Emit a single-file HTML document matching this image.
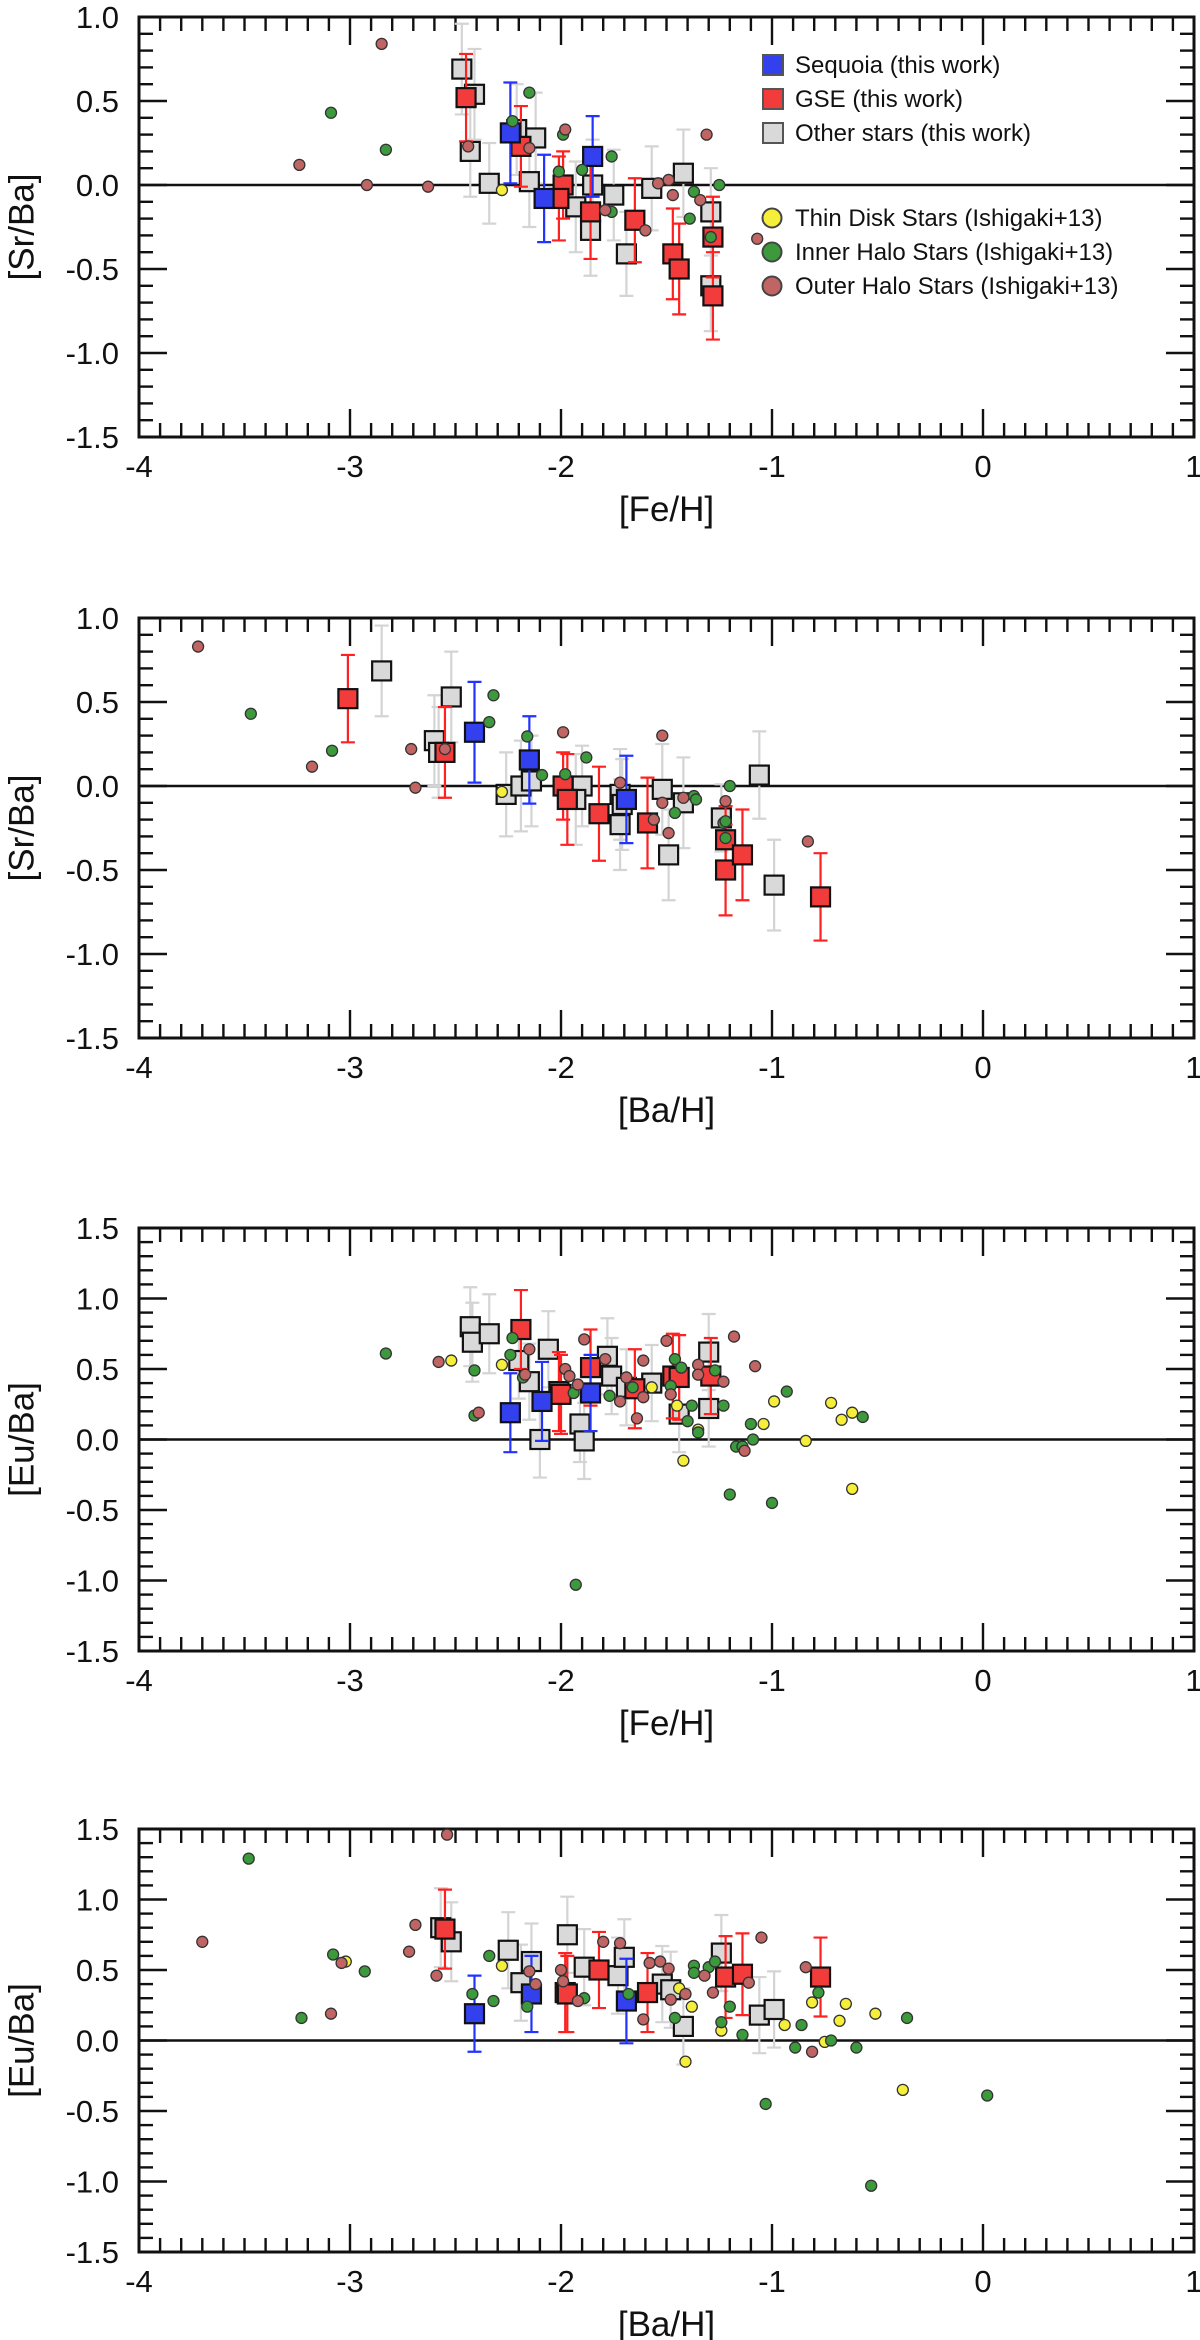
<!DOCTYPE html>
<html><head><meta charset="utf-8"><title>Abundance ratio panels</title>
<style>
html,body{margin:0;padding:0;background:#fff;}
svg{display:block;font-family:"Liberation Sans",Arial,sans-serif;}
</style></head>
<body>
<svg id="fig" width="1200" height="2340" viewBox="0 0 1200 2340" xmlns="http://www.w3.org/2000/svg"></svg>
<script>
// ---------- Panel 1: [Sr/Ba] vs [Fe/H] ----------
const p1SeqX=[-2.24,-2.08,-1.85];
const p1SeqY=[0.31,-0.08,0.17];
const p1SeqE=[0.30,0.26,0.24];
const p1GseX=[-2.45,-2.19,-1.99,-2.01,-1.86,-1.65,-1.47,-1.44,-1.28,-1.28];
const p1GseY=[0.52,0.23,0.0,-0.08,-0.16,-0.21,-0.41,-0.50,-0.31,-0.66];
const p1GseE=[0.26,0.24,0.20,0.25,0.28,0.25,0.27,0.27,0.24,0.26];
const p1OthX=[-2.47,-2.41,-2.43,-2.34,-2.21,-2.12,-2.15,-1.93,-1.85,-1.86,-1.75,-1.69,-1.57,-1.42,-1.29,-1.29];
const p1OthY=[0.69,0.54,0.20,0.01,0.33,0.28,0.02,-0.13,0.0,-0.27,-0.06,-0.41,-0.02,0.07,-0.16,-0.60];
const p1OthE=[0.27,0.27,0.27,0.24,0.27,0.27,0.27,0.27,0.27,0.27,0.27,0.25,0.25,0.26,0.26,0.27];
const p1ThinX=[-2.28];
const p1ThinY=[-0.03];
const p1InnX=[-3.09,-2.83,-2.23,-2.15,-1.99,-2.01,-1.90,-1.76,-1.76,-1.37,-1.39,-1.25,-1.29];
const p1InnY=[0.43,0.21,0.38,0.55,0.30,0.08,0.09,0.17,-0.16,-0.04,-0.20,0.0,-0.31];
const p1OutX=[-2.85,-3.24,-2.92,-2.63,-2.44,-2.15,-1.98,-1.79,-1.60,-1.54,-1.49,-1.47,-1.34,-1.31,-1.07];
const p1OutY=[0.84,0.12,0.0,-0.01,0.23,0.22,0.33,-0.15,-0.27,0.01,0.03,-0.06,-0.09,0.30,-0.32];

// ---------- Panel 2: [Sr/Ba] vs [Ba/H] ----------
const p2SeqX=[-2.41,-2.15,-1.69];
const p2SeqY=[0.32,0.155,-0.08];
const p2SeqE=[0.30,0.26,0.26];
const p2GseX=[-3.01,-2.55,-1.99,-1.97,-1.82,-1.59,-1.22,-1.22,-1.14,-0.77];
const p2GseY=[0.52,0.20,0.0,-0.08,-0.165,-0.22,-0.32,-0.50,-0.41,-0.66];
const p2GseE=[0.26,0.27,0.20,0.27,0.28,0.27,0.20,0.27,0.27,0.26];
const p2OthX=[-2.85,-2.52,-2.60,-2.58,-2.26,-2.19,-2.14,-1.90,-1.93,-1.72,-1.71,-1.72,-1.52,-1.49,-1.42,-1.24,-1.06,-0.99];
const p2OthY=[0.685,0.53,0.27,0.20,-0.05,0.0,0.03,0.0,-0.08,-0.05,-0.11,-0.23,-0.02,-0.41,-0.10,-0.19,0.065,-0.59];
const p2OthE=[0.27,0.27,0.27,0.27,0.25,0.27,0.27,0.24,0.27,0.27,0.27,0.27,0.27,0.27,0.27,0.20,0.26,0.27];
const p2ThinX=[-2.28];
const p2ThinY=[-0.035];
const p2InnX=[-3.47,-3.085,-2.32,-2.34,-2.16,-2.09,-1.98,-1.88,-1.46,-1.37,-1.36,-1.20,-1.23,-1.22,-1.22];
const p2InnY=[0.43,0.21,0.54,0.38,0.295,0.065,0.07,0.17,-0.16,-0.06,-0.08,0.0,-0.22,-0.21,-0.31];
const p2OutX=[-3.72,-3.18,-2.71,-2.69,-2.55,-1.99,-1.72,-1.52,-1.56,-1.49,-1.52,-1.42,-1.22,-0.83];
const p2OutY=[0.83,0.115,0.22,-0.01,0.22,0.32,0.02,-0.10,-0.20,-0.28,0.30,-0.07,-0.09,-0.33];

// ---------- Panel 3: [Eu/Ba] vs [Fe/H] ----------
const p3SeqX=[-2.24,-2.09,-1.86];
const p3SeqY=[0.19,0.27,0.33];
const p3SeqE=[0.28,0.28,0.27];
const p3GseX=[-2.19,-2.01,-2.0,-1.86,-1.65,-1.47,-1.44,-1.29];
const p3GseY=[0.78,0.34,0.32,0.51,0.36,0.45,0.44,0.45];
const p3GseE=[0.28,0.28,0.28,0.27,0.28,0.30,0.30,0.27];
const p3OthX=[-2.43,-2.42,-2.34,-2.20,-2.15,-2.06,-2.10,-1.91,-1.89,-1.78,-1.76,-1.69,-1.57,-1.44,-1.30,-1.30];
const p3OthY=[0.80,0.69,0.75,0.56,0.41,0.64,0.0,0.11,-0.01,0.59,0.45,0.37,0.40,0.18,0.62,0.22];
const p3OthE=[0.28,0.28,0.28,0.27,0.27,0.27,0.27,0.27,0.27,0.27,0.27,0.27,0.27,0.27,0.27,0.27];
const p3ThinX=[-2.52,-2.28,-1.57,-1.45,-1.35,-1.42,-1.04,-0.99,-0.84,-0.72,-0.67,-0.62,-0.62];
const p3ThinY=[0.56,0.53,0.37,0.24,0.07,-0.15,0.11,0.27,-0.01,0.26,0.14,0.19,-0.35];
const p3InnX=[-2.83,-2.41,-2.41,-2.23,-2.24,-2.18,-1.94,-1.77,-1.66,-1.48,-1.46,-1.43,-1.38,-1.40,-1.35,-1.27,-1.23,-1.17,-1.14,-1.09,-1.10,-0.93,-0.57,-1.20,-1.0,-1.93];
const p3InnY=[0.61,0.49,0.17,0.72,0.60,0.44,0.33,0.31,0.37,0.38,0.57,0.51,0.24,0.13,0.05,0.49,0.24,-0.05,-0.05,0.0,0.11,0.34,0.16,-0.39,-0.45,-1.03];
const p3OutX=[-2.58,-2.39,-2.15,-2.17,-1.98,-1.96,-1.92,-1.89,-1.79,-1.72,-1.69,-1.61,-1.61,-1.64,-1.50,-1.48,-1.35,-1.35,-1.23,-1.18,-1.08,-1.13];
const p3OutY=[0.55,0.19,0.64,0.46,0.50,0.45,0.39,0.71,0.57,0.27,0.44,0.30,0.56,0.15,0.70,0.32,0.53,0.46,0.41,0.73,0.52,-0.08];

// ---------- Panel 4: [Eu/Ba] vs [Ba/H] ----------
const p4SeqX=[-2.41,-2.14,-1.69];
const p4SeqY=[0.19,0.33,0.28];
const p4SeqE=[0.27,0.27,0.30];
const p4GseX=[-2.55,-1.98,-1.97,-1.82,-1.59,-1.22,-1.14,-0.77];
const p4GseY=[0.79,0.34,0.33,0.50,0.34,0.45,0.47,0.45];
const p4GseE=[0.28,0.28,0.27,0.27,0.28,0.29,0.29,0.28];
const p4OthX=[-2.57,-2.52,-2.25,-2.19,-2.14,-1.97,-1.89,-1.73,-1.70,-1.52,-1.48,-1.42,-1.24,-1.06,-0.99];
const p4OthY=[0.80,0.70,0.64,0.41,0.56,0.75,0.52,0.46,0.59,0.40,0.36,0.10,0.62,0.18,0.22];
const p4OthE=[0.28,0.28,0.27,0.27,0.27,0.27,0.27,0.27,0.27,0.27,0.27,0.27,0.27,0.27,0.27];
const p4ThinX=[-3.02,-2.28,-1.44,-1.38,-1.24,-1.41,-0.94,-0.81,-0.75,-0.68,-0.65,-0.51,-0.38];
const p4ThinY=[0.56,0.53,0.37,0.24,0.07,-0.15,0.11,0.27,-0.01,0.14,0.26,0.19,-0.35];
const p4InnX=[-3.48,-3.23,-3.08,-2.93,-2.42,-2.32,-2.34,-2.16,-1.89,-1.68,-1.46,-1.37,-1.37,-1.30,-1.27,-1.20,-1.24,-1.14,-0.86,-0.89,-0.72,-0.60,-0.36,-0.78,-1.03,-0.53,0.02];
const p4InnY=[1.29,0.16,0.61,0.49,0.33,0.28,0.60,0.24,0.30,0.33,0.16,0.53,0.48,0.52,0.56,0.24,0.13,0.04,0.11,-0.05,0.0,-0.05,0.16,0.34,-0.45,-1.03,-0.39];
const p4OutX=[-3.70,-2.54,-2.69,-2.72,-2.59,-3.09,-3.04,-2.15,-2.12,-2.0,-1.99,-1.80,-1.72,-1.92,-1.58,-1.53,-1.49,-1.48,-1.41,-1.61,-1.32,-1.28,-1.11,-1.05,-0.84,-0.81];
const p4OutY=[0.70,1.46,0.82,0.63,0.46,0.19,0.55,0.49,0.40,0.50,0.42,0.70,0.69,0.28,0.55,0.56,0.51,0.29,0.33,0.15,0.46,0.34,0.41,0.73,0.52,-0.08];

const xTickLabels=["-4","-3","-2","-1","0","1"];
const yTicksSr=["1.0","0.5","0.0","-0.5","-1.0","-1.5"];
const yTicksEu=["1.5","1.0","0.5","0.0","-0.5","-1.0","-1.5"];

const NS="http://www.w3.org/2000/svg";
const svg=document.getElementById('fig');
function mk(tag,attrs,parent){const e=document.createElementNS(NS,tag);for(const k in attrs)e.setAttribute(k,attrs[k]);(parent||svg).appendChild(e);return e;}

const XL=139, XR=1194, XMIN=-4, XMAX=1;
function xs(v){return XL+(v-XMIN)*(XR-XL)/(XMAX-XMIN);}

const panels=[
 {top:17,bot:437,ymin:-1.5,ymax:1.0,ylab:"[Sr/Ba]",xlab:"[Fe/H]",yt:yTicksSr,legend:true,
  seq:[p1SeqX,p1SeqY,p1SeqE],gse:[p1GseX,p1GseY,p1GseE],oth:[p1OthX,p1OthY,p1OthE],thin:[p1ThinX,p1ThinY],inn:[p1InnX,p1InnY],out:[p1OutX,p1OutY]},
 {top:618,bot:1038,ymin:-1.5,ymax:1.0,ylab:"[Sr/Ba]",xlab:"[Ba/H]",yt:yTicksSr,
  seq:[p2SeqX,p2SeqY,p2SeqE],gse:[p2GseX,p2GseY,p2GseE],oth:[p2OthX,p2OthY,p2OthE],thin:[p2ThinX,p2ThinY],inn:[p2InnX,p2InnY],out:[p2OutX,p2OutY]},
 {top:1228,bot:1651,ymin:-1.5,ymax:1.5,ylab:"[Eu/Ba]",xlab:"[Fe/H]",yt:yTicksEu,
  seq:[p3SeqX,p3SeqY,p3SeqE],gse:[p3GseX,p3GseY,p3GseE],oth:[p3OthX,p3OthY,p3OthE],thin:[p3ThinX,p3ThinY],inn:[p3InnX,p3InnY],out:[p3OutX,p3OutY]},
 {top:1829,bot:2252,ymin:-1.5,ymax:1.5,ylab:"[Eu/Ba]",xlab:"[Ba/H]",yt:yTicksEu,
  seq:[p4SeqX,p4SeqY,p4SeqE],gse:[p4GseX,p4GseY,p4GseE],oth:[p4OthX,p4OthY,p4OthE],thin:[p4ThinX,p4ThinY],inn:[p4InnX,p4InnY],out:[p4OutX,p4OutY]}
];

const COL={seq:"#3340ee",gse:"#f23c3c",oth:"#d9d9d9",thin:"#f6ef3a",inn:"#3c9a3c",out:"#c06464"};
const ERRCOL={seq:"#2233ff",gse:"#ff2020",oth:"#d4d4d4"};

panels.forEach((p,pi)=>{
  const g=mk('g',{});
  
  
  function ys(v){return p.top+(p.ymax-v)*(p.bot-p.top)/(p.ymax-p.ymin);}
  const zl=mk('line',{x1:XL,x2:XR,y1:ys(0),y2:ys(0),stroke:'#111','stroke-width':2.5},g);
  
  
  const tg=mk('g',{stroke:'#111','stroke-width':2.4},g);
  
  
  for(let i=0;i<=50;i++){
    const v=XMIN+i*0.1, x=xs(v), L=(i%10===0)?28:14;
    mk('line',{x1:x,x2:x,y1:p.bot,y2:p.bot-L},tg);
    mk('line',{x1:x,x2:x,y1:p.top,y2:p.top+L},tg);
  }
  const ny=Math.round((p.ymax-p.ymin)/0.1);
  for(let i=0;i<=ny;i++){
    const v=p.ymin+i*0.1, y=ys(v), L=(i%5===0)?28:14;
    mk('line',{x1:XL,x2:XL+L,y1:y,y2:y},tg);
    mk('line',{x1:XR,x2:XR-L,y1:y,y2:y},tg);
  }
  const fr=mk('rect',{x:XL,y:p.top,width:XR-XL,height:p.bot-p.top,fill:'none',stroke:'#111','stroke-width':3},g);
  
  
  xTickLabels.forEach((t,i)=>{
    const tx=mk('text',{x:xs(XMIN+i),y:p.bot+40,'font-size':31,'text-anchor':'middle',fill:'#111'},g);
    tx.textContent=t;
    
    
  });
  p.yt.forEach((t,i)=>{
    const v=p.ymax-i*0.5;
    const tx=mk('text',{x:119,y:ys(v)+11,'font-size':31,'text-anchor':'end',fill:'#111'},g);
    tx.textContent=t;
    
    
  });
  const xt=mk('text',{x:(XL+XR)/2,y:p.bot+84,'font-size':35,'text-anchor':'middle',fill:'#111'},g);
  xt.textContent=p.xlab;
  
  
  const cy=(p.top+p.bot)/2;
  const yt=mk('text',{x:22,y:cy,'font-size':35,'text-anchor':'middle','dominant-baseline':'central',fill:'#111',transform:'rotate(-90 22 '+cy+')'},g);
  yt.textContent=p.ylab;
  
  

  function squares(key){
    const [X,Y,E]=p[key];
    const sg=mk('g',{},g);
    
    
    for(let i=0;i<X.length;i++){
      const x=xs(X[i]), y1=ys(Y[i]+E[i]), y2=ys(Y[i]-E[i]);
      const eb=mk('path',{d:`M${x},${y1}V${y2}M${x-7},${y1}H${x+7}M${x-7},${y2}H${x+7}`,stroke:ERRCOL[key],'stroke-width':2.2,fill:'none'},sg);
      
      
    }
    for(let i=0;i<X.length;i++){
      const x=xs(X[i]), y=ys(Y[i]);
      const r=mk('rect',{x:x-9.5,y:y-9.5,width:19,height:19,fill:COL[key],stroke:'#111','stroke-width':2.2},sg);
      
      
    }
  }
  function circles(key){
    const [X,Y]=p[key];
    const cg=mk('g',{},g);
    
    
    for(let i=0;i<X.length;i++){
      const c=mk('circle',{cx:xs(X[i]),cy:ys(Y[i]),r:5.5,fill:COL[key],stroke:'#333','stroke-width':1.3},cg);
      
      
    }
  }
  squares('oth'); squares('gse'); squares('seq');
  circles('thin'); circles('inn'); circles('out');

  if(p.legend){
    const lg=mk('g',{},g);
    
    
    const sq=[["seq","Sequoia (this work)",65],["gse","GSE (this work)",99],["oth","Other stars (this work)",133]];
    sq.forEach(s=>{
      const r=mk('rect',{x:763,y:s[2]-10,width:20,height:20,fill:COL[s[0]],stroke:'#555','stroke-width':2},lg);
      
      
      const t=mk('text',{x:795,y:s[2]+8,'font-size':24,fill:'#111'},lg);
      t.textContent=s[1];
      
      
    });
    const ci=[["thin","Thin Disk Stars (Ishigaki+13)",218],["inn","Inner Halo Stars (Ishigaki+13)",252],["out","Outer Halo Stars (Ishigaki+13)",286]];
    ci.forEach(s=>{
      const c=mk('circle',{cx:772,cy:s[2],r:9.5,fill:COL[s[0]],stroke:'#444','stroke-width':2},lg);
      
      
      const t=mk('text',{x:795,y:s[2]+8,'font-size':24,fill:'#111'},lg);
      t.textContent=s[1];
      
      
    });
  }
});
</script>
</body></html>
